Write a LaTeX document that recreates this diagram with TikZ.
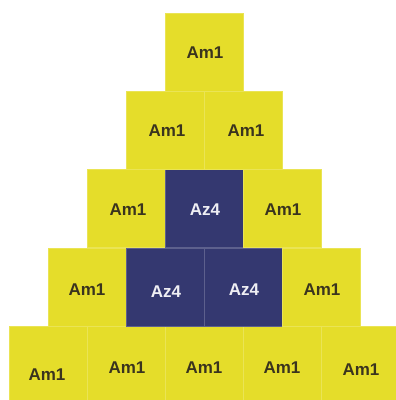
\documentclass[tikz,border=0pt]{standalone}
\usepackage{fontspec}
\setmainfont{Liberation Sans}
\definecolor{amy}{RGB}{229,221,42}
\definecolor{azb}{RGB}{52,56,112}
\definecolor{txt}{RGB}{58,52,30}
\tikzset{
  cell/.style={minimum width=78pt,minimum height=78pt,inner sep=0pt,outer sep=0pt,
    draw=amy!80!white,line width=0.5pt},
  amcell/.style={cell,fill=amy},
  azcell/.style={cell,fill=azb,draw=azb!80!white},
  lab/.style={font=\bfseries\fontsize{17}{17}\selectfont,text=txt,inner sep=0pt},
  azlab/.style={lab,text=white!92!azb}
}
\begin{document}
\begin{tikzpicture}[x=1pt,y=-1pt]
\useasboundingbox (0,0) rectangle (396,400);
\clip (0,0) rectangle (396,400);
% row 5
\node[amcell] (e1) at (48,365) {};
\node[amcell] (e2) at (126,365) {};
\node[amcell] (e3) at (204,365) {};
\node[amcell] (e4) at (282,365) {};
\node[amcell] (e5) at (360,365) {};
% row 4
\node[amcell] (d1) at (87,287) {};
\node[azcell] (d2) at (165,287) {};
\node[azcell] (d3) at (243,287) {};
\node[amcell] (d4) at (321,287) {};
% row 3
\node[amcell] (c1) at (126,208.5) {};
\node[azcell] (c2) at (204,208.5) {};
\node[amcell] (c3) at (282,208.5) {};
% row 2
\node[amcell] (b1) at (165,130.5) {};
\node[amcell] (b2) at (243,130.5) {};
% row 1
\node[amcell] (a1) at (204,52) {};
% labels
\node[lab] (la1) at (205,53) {Am1};
\node[lab] (lb1) at (167,131) {Am1};
\node[lab] (lb2) at (246,131) {Am1};
\node[lab] (lc1) at (128,210) {Am1};
\node[azlab] (lc2) at (205,210) {Az4};
\node[lab] (lc3) at (283,210) {Am1};
\node[lab] (ld1) at (87,290) {Am1};
\node[azlab] (ld2) at (166,292) {Az4};
\node[azlab] (ld3) at (244,290) {Az4};
\node[lab] (ld4) at (322,290) {Am1};
\node[lab] (le1) at (47,375) {Am1};
\node[lab] (le2) at (127,368) {Am1};
\node[lab] (le3) at (204,368) {Am1};
\node[lab] (le4) at (282,368) {Am1};
\node[lab] (le5) at (361,370) {Am1};
\end{tikzpicture}
\end{document}
